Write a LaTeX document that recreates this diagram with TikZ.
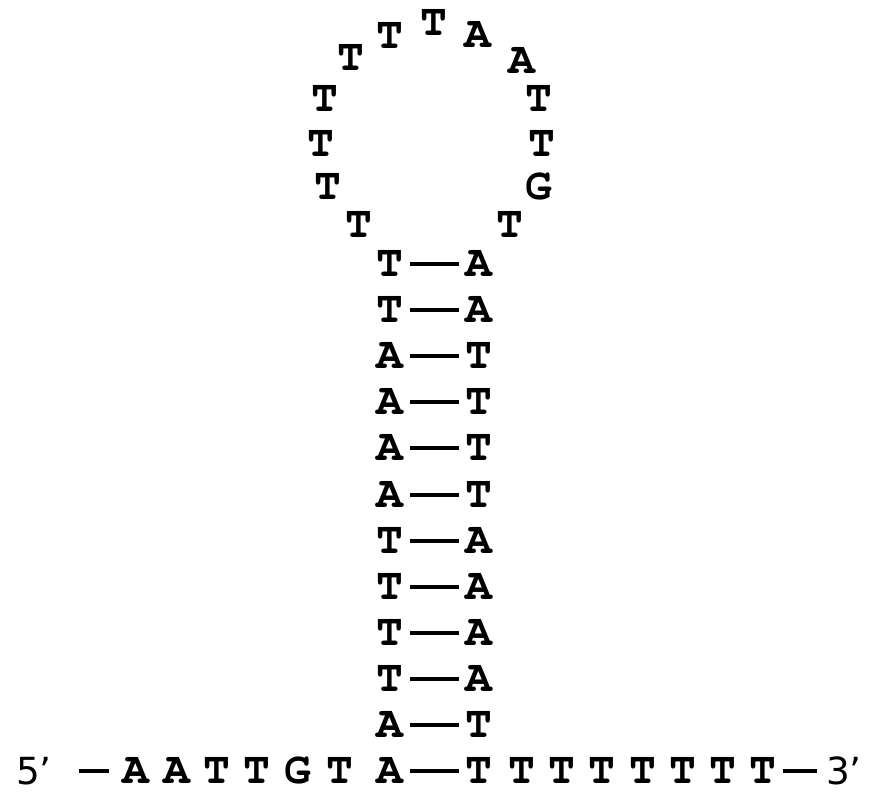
\documentclass[tikz,border=0pt]{standalone}
\usepackage{fontspec}
\newfontfamily\basefont{TeX Gyre Cursor}
\newfontfamily\endfont{DejaVu Sans}
\tikzset{
  base/.style={font=\basefont\bfseries\fontsize{33.5}{33.5}\selectfont, inner sep=0pt, text height=18.75pt, text depth=0pt},
  endlab/.style={font=\endfont\fontsize{28}{28}\selectfont, inner sep=0pt, text height=20pt, text depth=0pt},
  bond/.style={line width=3pt, shorten <=5pt, shorten >=5pt}
}
\begin{document}
\begin{tikzpicture}[x=0.75pt,y=-0.75pt]
\useasboundingbox (0,0) rectangle (884,794);
% stem
\foreach \a/\b [count=\i from 0] in {T/A,T/A,A/T,A/T,A/T,A/T,T/A,T/A,T/A,T/A,A/T,A/T}{
  \node[base] (l\i) at (390,{264+46.1*\i}) {\a};
  \node[base] (r\i) at (479,{264+46.1*\i}) {\b};
  \draw[bond] (l\i) -- (r\i);
}
% loop
\foreach \t/\x/\y [count=\k] in {T/359/225,T/328/187,T/321/144,T/325/99,T/351/58,T/390/36,T/434/23,A/478/35,A/522/61,T/539/99,T/542/144,G/539/187,T/510/225}{
  \node[base] (lp\k) at (\x,\y) {\t};
}
% 5' tail
\foreach \t/\x [count=\k] in {A/136,A/177,T/217,T/257,G/298,T/340}{
  \node[base] (b\k) at (\x,771) {\t};
}
% 3' tail
\foreach \x [count=\k] in {522,562,602,643,683,723,763}{
  \node[base] (c\k) at (\x,771) {T};
}
\node[endlab] (p5) at (34,771) {5’};
\node[endlab] (p3) at (844,771) {3’};
\draw[line width=3pt, shorten <=20pt, shorten >=10pt] (p5) -- (b1);
\draw[line width=3pt, shorten <=5pt, shorten >=7pt] (c7) -- (p3);
\end{tikzpicture}
\end{document}
